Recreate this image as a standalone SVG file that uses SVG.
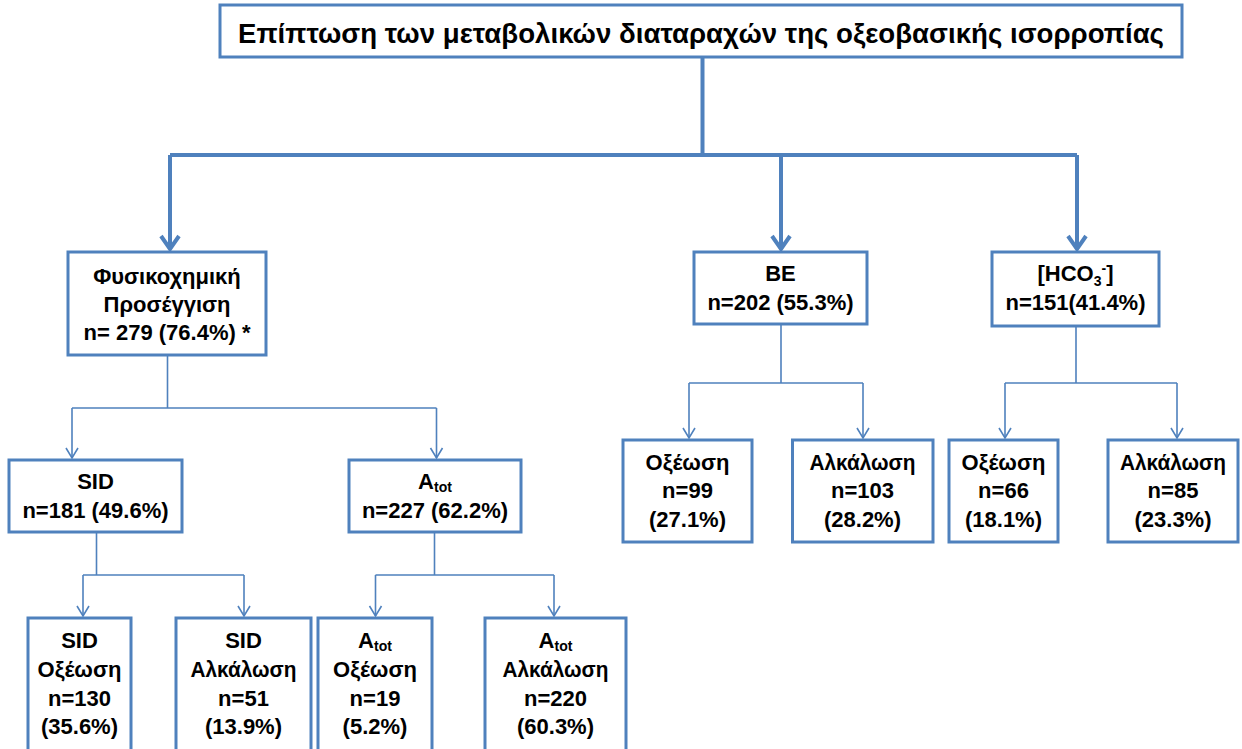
<svg xmlns="http://www.w3.org/2000/svg" width="1242" height="749" viewBox="0 0 1242 749">
<defs>
<style>
.box{fill:#fff;stroke:#4F81BD;stroke-width:3}
.t{font-family:"Liberation Sans","Noto Sans",sans-serif;font-weight:bold;font-size:22px;fill:#000;text-anchor:middle}
.title{font-size:27px}
.sub{font-size:14px}
.thick{fill:none;stroke:#4F81BD;stroke-width:4}
.thin{fill:none;stroke:#4F81BD;stroke-width:1.6}
</style>
<marker id="ab" markerUnits="userSpaceOnUse" markerWidth="30" markerHeight="30" refX="0" refY="0" viewBox="-15 -15 30 30" orient="auto" overflow="visible">
<polyline points="-13,-9 0,0 -13,9" fill="none" stroke="#4F81BD" stroke-width="4"/>
</marker>
<marker id="as" markerUnits="userSpaceOnUse" markerWidth="20" markerHeight="20" refX="0" refY="0" viewBox="-10 -10 20 20" orient="auto" overflow="visible">
<polyline points="-10,-6 0,0 -10,6" fill="none" stroke="#4F81BD" stroke-width="1.6"/>
</marker>
</defs>
<rect width="1242" height="749" fill="#fff"/>
<g id="connectors">
<path class="thick" d="M702.5,57 V155 M170,155 H1077"/>
<path class="thick" d="M170,155 V249" marker-end="url(#ab)"/>
<path class="thick" d="M781,155 V249" marker-end="url(#ab)"/>
<path class="thick" d="M1077,155 V249" marker-end="url(#ab)"/>
<path class="thin" d="M167.5,355 V408 M72,408 H436.5"/>
<path class="thin" d="M72,408 V458" marker-end="url(#as)"/>
<path class="thin" d="M436.5,408 V458" marker-end="url(#as)"/>
<path class="thin" d="M96.5,532 V575 M83,575 H244"/>
<path class="thin" d="M83,575 V616" marker-end="url(#as)"/>
<path class="thin" d="M244,575 V616" marker-end="url(#as)"/>
<path class="thin" d="M434.5,532 V575 M375.5,575 H554"/>
<path class="thin" d="M375.5,575 V616" marker-end="url(#as)"/>
<path class="thin" d="M554,575 V616" marker-end="url(#as)"/>
<path class="thin" d="M781,324 V383 M689,383 H863"/>
<path class="thin" d="M689,383 V438" marker-end="url(#as)"/>
<path class="thin" d="M863,383 V438" marker-end="url(#as)"/>
<path class="thin" d="M1076,326 V383 M1005,383 H1177"/>
<path class="thin" d="M1005,383 V438" marker-end="url(#as)"/>
<path class="thin" d="M1177,383 V438" marker-end="url(#as)"/>
</g>
<g id="root">
<rect class="box" x="220" y="5" width="962" height="52"/>
<text class="t title" x="701" y="43" textLength="926" lengthAdjust="spacingAndGlyphs">Επίπτωση των μεταβολικών διαταραχών της οξεοβασικής ισορροπίας</text>
</g>
<g id="physico">
<rect class="box" x="68" y="252" width="198" height="103"/>
<text class="t" x="167" y="284">Φυσικοχημική</text>
<text class="t" x="167" y="312">Προσέγγιση</text>
<text class="t" x="167" y="340">n= 279 (76.4%) *</text>
</g>
<g id="be">
<rect class="box" x="694" y="252" width="173" height="72"/>
<text class="t" x="780.5" y="281">BE</text>
<text class="t" x="780.5" y="310">n=202 (55.3%)</text>
</g>
<g id="hco3">
<rect class="box" x="992" y="252" width="167" height="74"/>
<text class="t" x="1075.5" y="281">[HCO<tspan class="sub" dy="5">3</tspan><tspan class="sub" dy="-13">-</tspan><tspan dy="8">]</tspan></text>
<text class="t" x="1075.5" y="310">n=151(41.4%)</text>
</g>
<g id="sid">
<rect class="box" x="9" y="460" width="173" height="72"/>
<text class="t" x="95.5" y="489">SID</text>
<text class="t" x="95.5" y="518">n=181 (49.6%)</text>
</g>
<g id="atot">
<rect class="box" x="349" y="460" width="172" height="72"/>
<text class="t" x="435" y="489">A<tspan class="sub" dy="3">tot</tspan></text>
<text class="t" x="435" y="518">n=227 (62.2%)</text>
</g>
<g id="be-acid">
<rect class="box" x="623" y="440" width="129" height="102"/>
<text class="t" x="687.5" y="470">Οξέωση</text>
<text class="t" x="687.5" y="498">n=99</text>
<text class="t" x="687.5" y="527">(27.1%)</text>
</g>
<g id="be-alk">
<rect class="box" x="792.5" y="440" width="140.5" height="102"/>
<text class="t" x="862.5" y="470" textLength="106" lengthAdjust="spacingAndGlyphs">Αλκάλωση</text>
<text class="t" x="862.5" y="498">n=103</text>
<text class="t" x="862.5" y="527">(28.2%)</text>
</g>
<g id="hco3-acid">
<rect class="box" x="949" y="440" width="109" height="102"/>
<text class="t" x="1003.5" y="470">Οξέωση</text>
<text class="t" x="1003.5" y="498">n=66</text>
<text class="t" x="1003.5" y="527">(18.1%)</text>
</g>
<g id="hco3-alk">
<rect class="box" x="1108" y="440" width="130" height="102"/>
<text class="t" x="1173" y="470" textLength="106" lengthAdjust="spacingAndGlyphs">Αλκάλωση</text>
<text class="t" x="1173" y="498">n=85</text>
<text class="t" x="1173" y="527">(23.3%)</text>
</g>
<g id="sid-acid">
<rect class="box" x="28" y="618" width="103" height="150"/>
<text class="t" x="79.5" y="648">SID</text>
<text class="t" x="79.5" y="677">Οξέωση</text>
<text class="t" x="79.5" y="706">n=130</text>
<text class="t" x="79.5" y="734">(35.6%)</text>
</g>
<g id="sid-alk">
<rect class="box" x="176" y="618" width="135" height="150"/>
<text class="t" x="243.5" y="648">SID</text>
<text class="t" x="243.5" y="677" textLength="106" lengthAdjust="spacingAndGlyphs">Αλκάλωση</text>
<text class="t" x="243.5" y="706">n=51</text>
<text class="t" x="243.5" y="734">(13.9%)</text>
</g>
<g id="atot-acid">
<rect class="box" x="318" y="618" width="114" height="150"/>
<text class="t" x="375" y="648">A<tspan class="sub" dy="3">tot</tspan></text>
<text class="t" x="375" y="677">Οξέωση</text>
<text class="t" x="375" y="706">n=19</text>
<text class="t" x="375" y="734">(5.2%)</text>
</g>
<g id="atot-alk">
<rect class="box" x="485" y="618" width="141" height="150"/>
<text class="t" x="555.5" y="648">A<tspan class="sub" dy="3">tot</tspan></text>
<text class="t" x="555.5" y="677" textLength="106" lengthAdjust="spacingAndGlyphs">Αλκάλωση</text>
<text class="t" x="555.5" y="706">n=220</text>
<text class="t" x="555.5" y="734">(60.3%)</text>
</g>
</svg>
